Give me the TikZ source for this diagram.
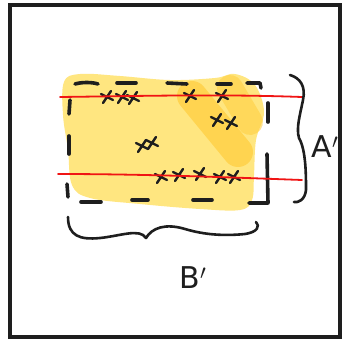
\documentclass[tikz,border=0pt]{standalone}
\usepackage{fontspec}
\newfontfamily\handfont{DejaVu Sans}
\definecolor{paleyellow}{RGB}{255,230,128}
\definecolor{deepyellow}{RGB}{255,205,60}
\definecolor{ink}{RGB}{30,30,30}
\definecolor{penred}{RGB}{240,20,20}
\tikzset{
  inkline/.style={draw=ink, line width=2.6pt, line cap=round, line join=round},
  frameline/.style={draw=ink, line width=4pt},
  dashseg/.style={draw=ink, line width=3.6pt, line cap=round, line join=round},
  redline/.style={draw=penred, line width=1.8pt, line cap=round},
  xm/.pic={\draw[inkline, line width=2.4pt] (-6,-3) -- (6,3) (-4,6) -- (4,-6);},
  hand/.style={font=\handfont\fontsize{30}{30}\selectfont, text=ink, inner sep=0pt}
}
\begin{document}
\begin{tikzpicture}[x=1pt, y=-1pt]
  \useasboundingbox (0,0) rectangle (345,340);
  \fill[white] (0,0) rectangle (345,340);
  % outer frame
  \draw[frameline] (10,5) rectangle (340,337);

  % pale highlighted area
  \fill[paleyellow] plot[smooth cycle, tension=0.6] coordinates {
    (64,82) (80,74) (120,76) (170,80) (215,78) (235,74) (255,85)
    (264,112) (256,140) (254,175) (252,200) (240,210) (200,209)
    (140,204) (90,198) (72,185) (68,150) (63,115)};
  % deeper highlight strokes
  \draw[deepyellow, opacity=0.7, line width=30pt, line cap=round] (192,96) -- (238,152);
  \draw[deepyellow, opacity=0.55, line width=26pt, line cap=round] (230,88) -- (250,122);

  % hand-drawn dashed rectangle
  \draw[dashseg] (75,84) .. controls (82,82) and (92,82) .. (98,84);
  \draw[dashseg] (117,83) -- (136,83);
  \draw[dashseg] (167,83) -- (187,84);
  \draw[dashseg] (217,84) -- (231,84);
  \draw[dashseg] (247,83) -- (260,83) -- (261,88);
  \draw[dashseg] (268,103) -- (268,122);
  \draw[dashseg] (267,154) -- (268,203) -- (249,203);
  \draw[dashseg] (193,200) -- (212,200);
  \draw[dashseg] (132,200) -- (148,200);
  \draw[dashseg] (81,202) -- (101,202);
  \draw[dashseg] (67,184) -- (68,197);
  \draw[dashseg] (69,136) -- (69,154);
  \draw[dashseg] (70,100) -- (69,114);

  % crosses
  \foreach \p in {(107,97),(122,97),(133,98),(190,96),(222,96),
                  (217,120),(231,123),(142,146),(152,143),
                  (161,177),(179,175),(200,174),(220,177),(234,177)}
    \pic at \p {xm};

  % red lines, drawn over the crosses
  \draw[redline] (60,97) .. controls (140,96) and (220,94) .. (302,97);
  \draw[redline] (58,174) .. controls (140,174) and (220,177) .. (302,180);

  % right brace
  \draw[inkline] (290,75) .. controls (300,78) and (306,86) .. (303,100)
    .. controls (300,115) and (296,128) .. (299,138)
    .. controls (306,150) and (306,175) .. (306,190)
    .. controls (305,200) and (298,203) .. (294,202);
  % bottom brace
  \draw[inkline] (68,217) .. controls (68,236) and (80,240) .. (100,238)
    .. controls (120,236) and (140,228) .. (146,238)
    .. controls (152,228) and (165,223) .. (185,229)
    .. controls (205,235) and (225,236) .. (245,234)
    .. controls (258,232) and (260,226) .. (256,222);

  % labels
  \node[hand] (A) at (325,147) {A$'$};
  \node[hand] (B) at (193,278) {B$'$};
\end{tikzpicture}
\end{document}
